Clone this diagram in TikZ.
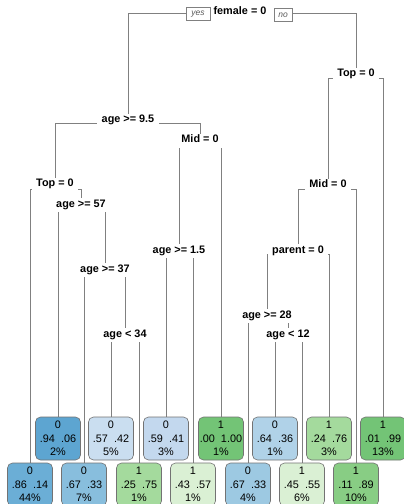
\documentclass[tikz,border=0pt]{standalone}
\usepackage{fontspec}
\setmainfont{Liberation Sans}
\definecolor{bA}{HTML}{5DA5D1}
\definecolor{bB}{HTML}{6BAED6}
\definecolor{bC}{HTML}{88BEDD}
\definecolor{bD}{HTML}{9DC9E2}
\definecolor{bE}{HTML}{B0D2E8}
\definecolor{bF}{HTML}{C3D8EE}
\definecolor{bG}{HTML}{CADEF0}
\definecolor{gA}{HTML}{73C476}
\definecolor{gB}{HTML}{88CD84}
\definecolor{gC}{HTML}{A4DA9D}
\definecolor{gD}{HTML}{DAF0D4}
\pgfdeclarelayer{bg}
\pgfsetlayers{bg,main}
\begin{document}
\begin{tikzpicture}[x=1bp,y=-1bp,
  br/.style={draw=black!50, line width=1bp},
  split/.style={fill=white, font=\fontsize{10.9}{12}\selectfont\bfseries, inner xsep=4.5bp, inner ysep=1.5bp, text height=7.5bp, text depth=3.5bp},
  leaf/.style={draw=black!55, line width=0.6bp, rounded corners=5bp, minimum width=45bp, minimum height=43bp, inner sep=0pt, align=center, font=\fontsize{10.9}{13.5}\selectfont},
  yn/.style={draw=black!50, fill=white, font=\fontsize{8.5}{10}\selectfont\itshape, text=black!65, inner sep=0pt, minimum height=13bp, line width=0.6bp}
]
\useasboundingbox (0,0) rectangle (403,504);

% split nodes
\node[split, inner xsep=9bp] (r) at (240,13) {female = 0};
\node[split] (A) at (128,121) {age >= 9.5};
\node[split] (B) at (356,75) {Top = 0};
\node[split] (C) at (55,185) {Top = 0};
\node[split] (D) at (200,141) {Mid = 0};
\node[split] (E) at (81,205) {age >= 57};
\node[split] (F) at (179,251) {age >= 1.5};
\node[split] (G) at (105,270) {age >= 37};
\node[split] (H) at (125,335) {age < 34};
\node[split] (I) at (328,186) {Mid = 0};
\node[split] (J) at (298,251) {parent = 0};
\node[split] (K) at (267,316) {age >= 28};
\node[split] (L) at (288,335) {age < 12};

\node[yn, minimum width=24bp] (yes) at (198,14) {yes};
\node[yn, minimum width=18bp] (no) at (283,15) {no};

% leaves
\node[leaf, fill=bA] (t1) at (58,438.5) {0\\.94~~.06\\2\%};
\node[leaf, fill=bG] (t2) at (111,438.5) {0\\.57~~.42\\5\%};
\node[leaf, fill=bF] (t3) at (166,438.5) {0\\.59~~.41\\3\%};
\node[leaf, fill=gA] (t4) at (221,438.5) {1\\.00~~1.00\\1\%};
\node[leaf, fill=bE] (t5) at (275,438.5) {0\\.64~~.36\\1\%};
\node[leaf, fill=gC] (t6) at (329,438.5) {1\\.24~~.76\\3\%};
\node[leaf, fill=gA] (t7) at (383,438.5) {1\\.01~~.99\\13\%};
\node[leaf, fill=bB] (u1) at (30,484.5) {0\\.86~~.14\\44\%};
\node[leaf, fill=bC] (u2) at (84,484.5) {0\\.67~~.33\\7\%};
\node[leaf, fill=gC] (u3) at (139,484.5) {1\\.25~~.75\\1\%};
\node[leaf, fill=gD] (u4) at (193,484.5) {1\\.43~~.57\\1\%};
\node[leaf, fill=bD] (u5) at (248,484.5) {0\\.67~~.33\\4\%};
\node[leaf, fill=gD] (u6) at (302,484.5) {1\\.45~~.55\\6\%};
\node[leaf, fill=gB] (u7) at (356,484.5) {1\\.11~~.89\\10\%};

% branches (drawn behind nodes)
\begin{pgfonlayer}{bg}
\fill[white] (0,0) rectangle (403,504);
\draw[br] ([yshift=-1bp]r.center) -| (A.center);
\draw[br] ([yshift=-1bp]r.center) -| (B.center);
\draw[br] ([yshift=-3bp]A.center) -| (C.center);
\draw[br] ([yshift=-3bp]A.center) -| (D.center);
\draw[br] ([yshift=-4bp]B.center) -| (I.center);
\draw[br] ([yshift=-4bp]B.center) -| (t7.center);
\draw[br] ([yshift=-4bp]C.center) -| (u1.center);
\draw[br] ([yshift=-4bp]C.center) -| (E.center);
\draw[br] ([yshift=-3bp]D.center) -| (F.center);
\draw[br] ([yshift=-3bp]D.center) -| (t4.center);
\draw[br] ([yshift=-3bp]E.center) -| (t1.center);
\draw[br] ([yshift=-3bp]E.center) -| (G.center);
\draw[br] ([yshift=-3bp]F.center) -| (t3.center);
\draw[br] ([yshift=-3bp]F.center) -| (u4.center);
\draw[br] ([yshift=-3bp]G.center) -| (u2.center);
\draw[br] ([yshift=-3bp]G.center) -| (H.center);
\draw[br] ([yshift=-3bp]H.center) -| (t2.center);
\draw[br] ([yshift=-3bp]H.center) -| (u3.center);
\draw[br] ([yshift=-3bp]I.center) -| (J.center);
\draw[br] ([yshift=-3bp]I.center) -| (u7.center);
\draw[br] ([yshift=-3bp]J.center) -| (K.center);
\draw[br] ([yshift=-3bp]J.center) -| (t6.center);
\draw[br] ([yshift=-3bp]K.center) -| (u5.center);
\draw[br] ([yshift=-3bp]K.center) -| (L.center);
\draw[br] ([yshift=-3bp]L.center) -| (t5.center);
\draw[br] ([yshift=-3bp]L.center) -| (u6.center);
\end{pgfonlayer}
\end{tikzpicture}
\end{document}
